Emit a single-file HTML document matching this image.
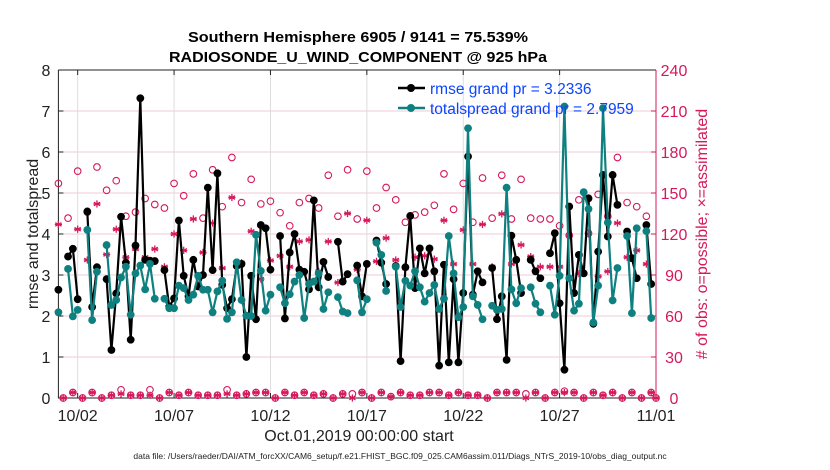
<!DOCTYPE html>
<html><head><meta charset="utf-8"><style>
html,body{margin:0;padding:0;background:#fff;}
svg{display:block;font-family:"Liberation Sans",Arial,sans-serif;}
</style></head><body>
<svg id="chart" width="830" height="470" viewBox="0 0 830 470" xmlns="http://www.w3.org/2000/svg">
<rect width="830" height="470" fill="#fff"/>
<g id="grid"></g>
<g id="axes"></g>
<g id="marks"></g>
<g id="legend">
  <line x1="398" y1="88" x2="425" y2="88" stroke="#000" stroke-width="2.5"/>
  <circle cx="411" cy="88" r="4" fill="#000"/>
  <text x="430" y="94" font-size="15.5" fill="#0b45ff">rmse grand pr = 3.2336</text>
  <line x1="398" y1="108" x2="425" y2="108" stroke="#0f8080" stroke-width="2.5"/>
  <circle cx="411" cy="108" r="4" fill="#0f8080"/>
  <text x="430" y="114" font-size="15.5" fill="#0b45ff">totalspread grand pr = 2.7959</text>
</g>
<text x="358" y="42" text-anchor="middle" font-size="15" font-weight="bold" textLength="340" lengthAdjust="spacingAndGlyphs">Southern Hemisphere 6905 / 9141 = 75.539%</text>
<text x="358" y="62" text-anchor="middle" font-size="15" font-weight="bold" textLength="378" lengthAdjust="spacingAndGlyphs">RADIOSONDE_U_WIND_COMPONENT @ 925 hPa</text>
<text x="359" y="441" text-anchor="middle" font-size="16" fill="#222">Oct.01,2019 00:00:00 start</text>
<text x="400" y="459" text-anchor="middle" font-size="8.5" fill="#222">data file: /Users/raeder/DAI/ATM_forcXX/CAM6_setup/f.e21.FHIST_BGC.f09_025.CAM6assim.011/Diags_NTrS_2019-10/obs_diag_output.nc</text>
<text transform="translate(38,234) rotate(-90)" text-anchor="middle" font-size="16" fill="#222">rmse and totalspread</text>
<text transform="translate(707,234) rotate(-90)" text-anchor="middle" font-size="16" fill="#d6185c"># of obs: o=possible; ×=assimilated</text>
</svg>
<script>
const rmse = [2.64,null,3.45,3.64,2.41,null,4.55,2.22,3.19,null,2.9,1.17,2.55,4.42,3.3,1.42,3.72,7.31,3.37,3.35,3.34,null,3.12,2.23,2.43,4.33,2.98,2.48,3.37,2.72,3.0,5.13,3.12,5.48,2.76,2.19,2.41,3.22,3.27,1.0,2.98,1.92,4.22,4.14,3.13,null,3.95,1.94,3.55,4.0,3.13,3.08,2.65,4.82,2.7,3.32,2.95,null,3.81,2.84,3.02,null,3.23,2.48,3.27,null,3.84,3.3,2.78,null,3.22,0.9,3.19,4.44,2.68,3.65,3.04,3.65,3.09,0.79,3.25,0.87,2.9,0.87,2.56,5.89,2.52,3.09,2.82,null,3.17,1.92,2.48,0.93,3.96,3.37,2.56,null,3.37,3.09,2.92,null,3.53,4.02,2.31,0.69,4.67,2.56,3.49,3.04,4.87,1.81,3.57,5.44,3.94,5.44,4.71,null,4.06,3.41,2.92,null,4.22,2.78,null];
const spread = [2.09,null,3.15,1.99,2.15,null,4.1,1.9,3.08,null,3.73,2.27,2.39,2.94,3.2,2.03,3.04,3.23,2.65,3.27,2.42,null,2.42,2.19,2.19,2.74,2.68,2.39,2.52,2.98,2.64,2.64,2.09,2.6,2.86,1.93,2.09,3.31,2.39,2.01,2.0,3.98,3.1,2.13,2.52,null,2.7,2.31,2.53,2.84,3.0,1.95,2.78,2.84,3.04,2.17,2.58,null,2.46,2.11,2.07,null,2.87,2.09,2.41,null,3.79,3.49,2.61,null,3.2,2.22,2.86,2.74,3.09,2.7,2.35,2.56,2.76,2.17,2.42,3.95,3.04,1.97,2.22,6.58,2.48,2.27,1.92,null,2.25,2.15,2.17,5.13,2.65,2.31,2.68,null,2.7,2.3,2.09,null,2.74,2.03,2.98,7.11,2.92,2.13,2.3,5.02,4.61,1.84,2.74,7.07,4.28,2.38,3.17,null,3.95,2.07,4.14,null,4.07,1.95,null];
const possible = [157,0,131.6,4,166,0,136,4,169,0,152,2,159,6,133,2,136,2,146,6,141.6,0,139,4,157,2,148,4,164,2,131.6,2,167,2,140,6,176,2,143,3,160,4,142,4,144,0,135.6,4,126,2,143,4,146,2,139,3,163,0,133,3,167,3,131,4,166,0,139,4,154,1,145,4,128.6,2,134,2,136,4,141,4,164,2,138,4,157,2,128.6,2,161,0,131.6,4,163,4,131,4,160,3,131.6,4,131,0,131,4,126,5,119,4,145,0,120.6,4,149,2,133,4,176,0,143,4,140,0,133,4,0];
const assimilated = [127,0,103.5,4,123.5,0,101,4,142,0,105,2,123.5,3,103,2,109,2,103,2,109,0,96,4,120,2,108,4,131,2,106.5,2,128,2,95,3,146.7,2,99,3,122,4,87,4,100.6,0,104,4,96,2,114.5,4,115.7,2,92.6,3,114.5,0,84.5,3,135,0,94,4,130,0,100,4,117,1,101,4,95,2,103,2,104,4,101.6,4,130,2,98,4,123,2,98,2,127,0,96,4,134.7,4,98,4,112,0,103.5,4,96,0,96,4,96,4,119,4,91,0,120,4,89,2,92.6,4,128,0,103,4,108,0,98,4,0];
const xTickLabels = ["10/02","10/07","10/12","10/17","10/22","10/27","11/01"];
const xTickDays = [1,6,11,16,21,26,31];
const yTicks = [0,1,2,3,4,5,6,7,8];
const rTicks = [0,30,60,90,120,150,180,210,240];

const NS="http://www.w3.org/2000/svg";
const L=58.4,R=656,T=70,B=398;
function xDay(d){return L+d*(R-L)/31;}
function xIdx(i){return xDay(i*0.25);}
function yL(v){return B-v*(B-T)/8;}
function yR(n){return B-n*(B-T)/240;}
function mk(tag,attrs,parent){const e=document.createElementNS(NS,tag);for(const k in attrs)e.setAttribute(k,attrs[k]);parent.appendChild(e);return e;}
const grid=document.getElementById('grid'),axes=document.getElementById('axes'),marks=document.getElementById('marks');
const crim="#d6185c";
yTicks.forEach(v=>{if(v>0&&v<8){const g=mk('line',{x1:L,x2:R,y1:yL(v),y2:yL(v),stroke:"#f2cbd9","stroke-width":1},grid);

}
const t=mk('text',{x:L-8,y:yL(v)+6,"text-anchor":"end","font-size":16,fill:"#222"},axes);t.textContent=v;


mk('line',{x1:L,x2:L+5,y1:yL(v),y2:yL(v),stroke:"#222"},axes);});
rTicks.forEach(n=>{const t=mk('text',{x:674,y:yR(n)+6,"text-anchor":"middle","font-size":16,fill:crim},axes);t.textContent=n;


mk('line',{x1:R-5,x2:R,y1:yR(n),y2:yR(n),stroke:crim},axes);});
xTickDays.forEach((d,k)=>{const x=xDay(d);
const g=mk('line',{x1:x,x2:x,y1:T,y2:B,stroke:"#dcdcdc","stroke-width":1},grid);


mk('line',{x1:x,x2:x,y1:B,y2:B-5,stroke:"#222"},axes);mk('line',{x1:x,x2:x,y1:T,y2:T+5,stroke:"#222"},axes);
const t=mk('text',{x:x,y:421,"text-anchor":"middle","font-size":16,fill:"#222"},axes);t.textContent=xTickLabels[k];

});
const frame=mk('path',{d:`M${L},${T}H${R}M${L},${T}V${B}H${R}`,stroke:"#222",fill:"none","stroke-width":1},axes);


const rax=mk('line',{x1:R,x2:R,y1:T,y2:B,stroke:crim,"stroke-width":1},axes);



function star(cx,cy,r,parent){const g=mk('g',{stroke:crim,"stroke-width":1.3},parent);
for(let a=0;a<3;a++){const t=a*Math.PI/3+Math.PI/2;mk('line',{x1:cx+r*Math.cos(t),y1:cy+r*Math.sin(t),x2:cx-r*Math.cos(t),y2:cy-r*Math.sin(t)},g);}
mk('line',{x1:cx-r,y1:cy,x2:cx+r,y2:cy},g);return g;}
possible.forEach((n,i)=>{const c=mk('circle',{cx:xIdx(i),cy:yR(n),r:3.3,fill:"none",stroke:crim,"stroke-width":1.1},marks);

});
assimilated.forEach((n,i)=>{const s=star(xIdx(i),yR(n),3.6,marks);

});

function series(vals,color,name){let d="",pen=false;
vals.forEach((v,i)=>{if(v===null){pen=false;return;}d+=(pen?"L":"M")+xIdx(i).toFixed(1)+","+yL(v).toFixed(1);pen=true;});
const p=mk('path',{d:d,stroke:color,"stroke-width":2.2,fill:"none","stroke-linejoin":"round"},marks);


vals.forEach((v,i)=>{if(v===null)return;const c=mk('circle',{cx:xIdx(i),cy:yL(v),r:3.9,fill:color},marks);

});}
series(rmse,"#000","rmse");
series(spread,"#0f8080","totalspread");
</script>
</body></html>
